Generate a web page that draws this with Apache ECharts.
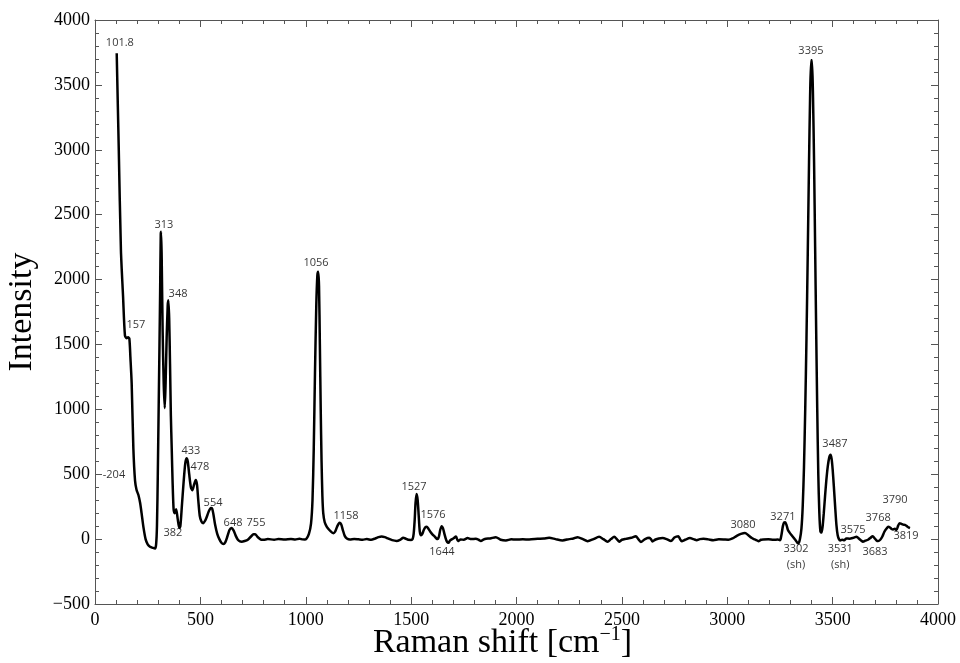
<!DOCTYPE html>
<html lang="en">
<head>
    <meta charset="UTF-8">
    <title>Raman spectrum</title>
    <script src="https://cdn.jsdelivr.net/npm/echarts@6/dist/echarts.min.js"></script>
</head>
<style type="text/css">
    html,body{
        margin: 0;
        padding: 0;
        background: #fff;
    }
    #chart{
        width: 960px;
        height: 663px;
    }
</style>
<body>
<div id="chart"></div>
<script>
    // spectrum: [raman shift, intensity]
    var spectrum = [
        [103,3744],[113,2985],[123,2226],[133,1875],[142,1570],[150,1548],
        [157,1556],[163,1545],[168,1400],[174,1200],[182,700],[190,450],[197,380],[206,340],
        [214,280],[221,200],[230,90],[240,0],[250,-40],[261,-59],[275,-68],[285,-72],[290,-40],
        [294,100],[298,500],[302,1000],[306,1500],[309,1900],[312,2350],[314,2368],[317,2100],
        [321,1600],[326,1200],[331,1010],[335,1200],[340,1550],[345,1800],[348,1841],[352,1700],
        [356,1350],[360,950],[364,700],[368,450],[373,230],[378,200],[385,230],[392,160],[400,85],
        [405,100],[412,250],[420,430],[428,580],[434,624],[440,600],[447,500],[455,400],[462,377],
        [470,420],[478,455],[484,420],[490,300],[497,180],[505,135],[513,123],[522,140],[530,170],
        [540,215],[550,239],[556,235],[562,190],[570,110],[580,40],[590,0],[600,-28],[609,-38],
        [618,-25],[628,20],[638,70],[648,85],[658,65],[668,25],[678,-5],[688,-18],[696,-20],
        [710,-15],[725,-5],[740,20],[752,38],[760,38],[770,20],[780,5],[790,-5],[800,-5],
        [820,0],[850,-4],[870,0],[900,-3],[930,0],[950,-3],[970,3],[985,-2],[995,-3],
        [1004,5],[1015,40],[1025,120],[1032,300],[1038,700],[1044,1300],[1050,1800],[1055,2030],
        [1059,2060],[1063,1950],[1067,1500],[1071,1000],[1075,600],[1079,330],[1083,200],
        [1090,130],[1100,95],[1112,70],[1125,50],[1131,46],[1140,60],[1150,100],[1160,126],
        [1168,115],[1176,70],[1185,25],[1195,5],[1210,-3],[1230,0],[1250,-2],[1270,-4],[1290,0],
        [1310,-5],[1330,5],[1345,15],[1360,20],[1375,15],[1390,5],[1410,-8],[1431,-14],[1450,-3],
        [1462,10],[1475,3],[1486,-5],[1500,-6],[1507,0],[1512,40],[1517,150],[1521,280],
        [1526,347],[1531,300],[1536,180],[1541,60],[1547,30],[1553,40],[1560,70],[1567,90],
        [1574,95],[1582,80],[1592,55],[1602,35],[1612,20],[1620,5],[1626,0],[1632,20],[1638,70],
        [1645,100],[1651,85],[1658,40],[1665,0],[1671,-22],[1677,-28],[1685,-10],[1700,5],
        [1713,20],[1722,-15],[1735,-3],[1750,-5],[1768,8],[1785,0],[1807,2],[1820,-5],[1831,-15],
        [1845,-2],[1855,3],[1875,5],[1902,15],[1925,-5],[1950,-10],[1975,-2],[1997,-3],[2030,-2],
        [2060,-3],[2100,2],[2130,5],[2155,10],[2185,0],[2218,-10],[2250,0],[2270,5],[2290,15],
        [2315,0],[2337,-16],[2365,0],[2392,18],[2412,0],[2432,-20],[2448,0],[2464,18],[2476,0],
        [2487,-20],[2500,-5],[2519,2],[2545,10],[2566,22],[2578,0],[2590,-22],[2610,0],[2630,10],
        [2640,-5],[2645,-18],[2660,-3],[2675,5],[2693,8],[2712,0],[2733,-15],[2749,12],[2768,22],
        [2776,0],[2784,-16],[2800,-5],[2823,8],[2840,0],[2855,-8],[2870,0],[2887,2],[2910,-2],
        [2934,-8],[2960,-2],[2982,-3],[3005,-5],[3025,5],[3045,25],[3065,40],[3084,47],[3100,30],
        [3115,10],[3124,2],[3135,-5],[3148,-16],[3160,-5],[3171,-3],[3195,-2],[3219,-5],
        [3240,-3],[3250,-8],[3253,0],[3258,40],[3264,100],[3270,128],[3275,130],[3281,110],
        [3288,70],[3296,50],[3305,31],[3315,10],[3325,-10],[3333,-30],[3338,-33],[3345,0],
        [3352,80],[3358,250],[3364,550],[3370,1000],[3376,1550],[3382,2200],[3388,2900],
        [3393,3400],[3398,3690],[3402,3690],[3407,3400],[3412,2900],[3417,2250],[3422,1600],
        [3427,1000],[3432,500],[3437,200],[3442,60],[3447,50],[3452,90],[3458,200],[3464,330],
        [3470,450],[3477,560],[3484,630],[3490,650],[3495,620],[3500,540],[3506,400],[3512,250],
        [3518,110],[3524,30],[3530,0],[3536,-10],[3545,-5],[3555,-8],[3565,5],[3580,3],[3595,8],
        [3606,15],[3614,18],[3624,5],[3635,-10],[3644,-20],[3655,-12],[3668,-5],[3680,10],
        [3690,23],[3700,5],[3708,-10],[3716,-15],[3726,-5],[3736,20],[3745,55],[3755,80],
        [3764,95],[3772,90],[3780,78],[3787,75],[3795,80],[3803,70],[3810,100],[3818,123],
        [3826,118],[3834,112],[3843,110],[3852,100],[3860,90],[3867,85]
    ];

    // peak annotations: [x, y, text]
    var peakLabels = [
        [118,3823,'101.8'],[194,1650,'157'],[327,2420,'313'],[394,1889,'348'],[90,494,'-204'],
        [370,47,'382'],[455,679,'433'],[498,556,'478'],[560,278,'554'],[655,124,'648'],
        [764,124,'755'],[1049,2127,'1056'],[1191,178,'1158'],[1514,401,'1527'],[1604,186,'1576'],
        [1646,-99,'1644'],[3075,109,'3080'],[3264,171,'3271'],[3326,-138,'3302\n(sh)'],
        [3397,3761,'3395'],[3511,733,'3487'],[3536,-138,'3531\n(sh)'],[3597,70,'3575'],
        [3701,-99,'3683'],[3716,163,'3768'],[3796,301,'3790'],[3848,24,'3819']
    ];

    var xMin = 0, xMax = 4000, xStep = 500;
    var yMin = -500, yMax = 4000, yStep = 500;

    var frame = '#555';
    var serif = '"Liberation Serif", "DejaVu Serif", serif';

    function axisBase(show){
        return {
            axisLine: {show: true, onZero: false, lineStyle: {color: frame, width: 1}},
            axisTick: {show: true, inside: true, length: 7, lineStyle: {color: frame}},
            minorTick: {show: true, splitNumber: 5, length: 4, lineStyle: {color: frame}},
            splitLine: {show: false},
            axisLabel: {
                show: show,
                fontFamily: serif,
                fontSize: 18,
                color: '#000',
                formatter: function(v){ return String(v).replace('-', '\u2212'); }
            }
        };
    }

    var chart = echarts.init(document.getElementById('chart'));

    var xBottom = axisBase(true);
    xBottom.type = 'value'; xBottom.min = xMin; xBottom.max = xMax; xBottom.interval = xStep;
    xBottom.position = 'bottom';
    xBottom.axisLabel.margin = 7;
    xBottom.name = 'Raman shift [cm{sup|\u22121}]';
    xBottom.nameLocation = 'middle';
    xBottom.nameGap = 21;
    xBottom.nameMoveOverlap = false;
    xBottom.nameTextStyle = {
        fontFamily: serif, fontSize: 34, color: '#000',
        padding: [0, 28, 0, 0],
        rich: {sup: {fontFamily: serif, fontSize: 20, verticalAlign: 'top', padding: [0,0,16,0], color: '#000'}}
    };

    var xTop = axisBase(false);
    xTop.type = 'value'; xTop.min = xMin; xTop.max = xMax; xTop.interval = xStep;
    xTop.position = 'top';

    var yLeft = axisBase(true);
    yLeft.type = 'value'; yLeft.min = yMin; yLeft.max = yMax; yLeft.interval = yStep;
    yLeft.position = 'left';
    yLeft.axisLabel.margin = 5;
    yLeft.name = 'Intensity';
    yLeft.nameLocation = 'middle';
    yLeft.nameGap = 56;
    yLeft.nameMoveOverlap = false;
    yLeft.nameTextStyle = {fontFamily: serif, fontSize: 34, color: '#000'};

    var yRight = axisBase(false);
    yRight.type = 'value'; yRight.min = yMin; yRight.max = yMax; yRight.interval = yStep;
    yRight.position = 'right';

    var option = {
        animation: false,
        backgroundColor: '#fff',
        grid: {left: 95, right: 22, top: 20, bottom: 59, containLabel: false, outerBoundsMode: 'none'},
        xAxis: [xBottom, xTop],
        yAxis: [yLeft, yRight],
        series: [{
            type: 'line',
            xAxisIndex: 0,
            yAxisIndex: 0,
            data: spectrum,
            showSymbol: false,
            smooth: 0.25,
            lineStyle: {color: '#000', width: 2.5},
            z: 3
        }, {
            type: 'scatter',
            xAxisIndex: 0,
            yAxisIndex: 0,
            symbolSize: 0,
            data: peakLabels,
            label: {
                show: true,
                position: 'inside',
                fontFamily: '"Open Sans", "Noto Sans", sans-serif',
                fontSize: 11,
                lineHeight: 16,
                color: '#000',
                formatter: function(p){ return p.data[2]; }
            },
            z: 4
        }]
    };
    chart.setOption(option);
</script>
</body>
</html>
